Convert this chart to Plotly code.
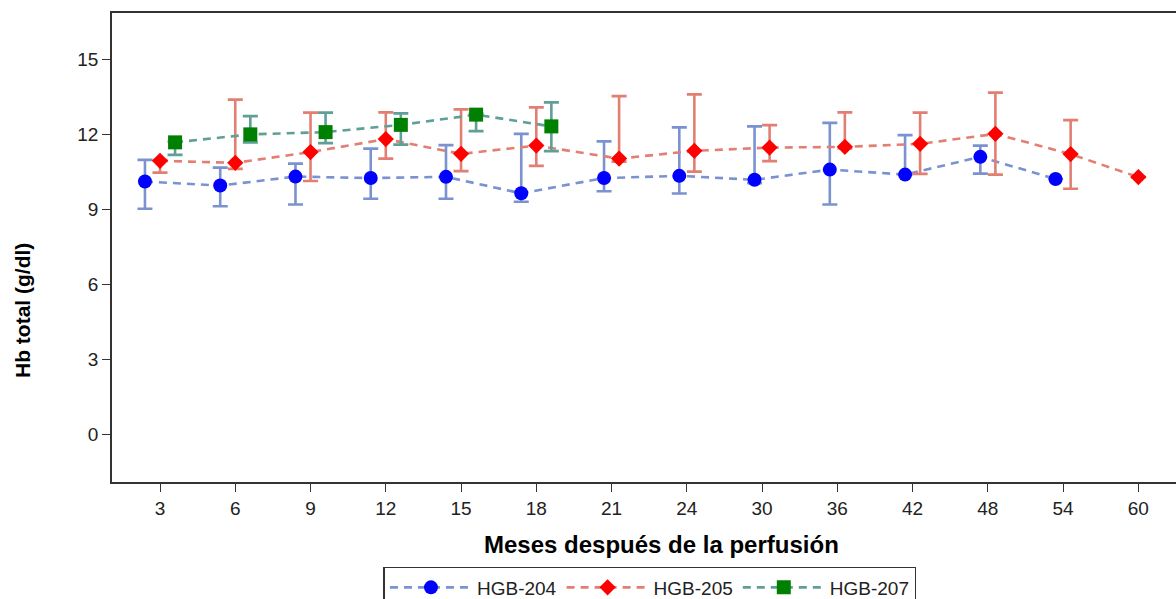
import plotly.graph_objects as go

months = ["3", "6", "9", "12", "15", "18", "21", "24", "30", "36", "42", "48", "54", "60"]

series_names = ["HGB-204", "HGB-205", "HGB-207"]

hgb204_mean = [10.12, 9.96, 10.32, 10.26, 10.31, 9.65, 10.26, 10.35, 10.19, 10.60, 10.40, 11.11, 10.22, None]
hgb204_upper = [10.99, 10.68, 10.84, 11.44, 11.58, 12.03, 11.73, 12.29, 12.33, 12.47, 11.98, 11.56, None, None]
hgb204_lower = [9.03, 9.13, 9.20, 9.43, 9.43, 9.31, 9.73, 9.64, 10.05, 9.20, 10.40, 10.44, None, None]

hgb205_mean = [10.95, 10.87, 11.30, 11.82, 11.23, 11.56, 11.04, 11.35, 11.48, 11.51, 11.63, 12.03, 11.22, 10.30]
hgb205_upper = [10.98, 13.40, 12.88, 12.89, 13.01, 13.09, 13.54, 13.61, 12.38, 12.89, 12.88, 13.68, 12.58, None]
hgb205_lower = [10.48, 10.63, 10.14, 11.04, 10.54, 10.75, 10.92, 10.52, 10.94, 11.45, 10.43, 10.40, 9.83, None]

hgb207_mean = [11.69, 12.01, 12.10, 12.39, 12.80, 12.33, None, None, None, None, None, None, None, None]
hgb207_upper = [11.72, 12.74, 12.88, 12.85, 12.83, 13.29, None, None, None, None, None, None, None, None]
hgb207_lower = [11.19, 11.69, 11.66, 11.60, 12.14, 11.34, None, None, None, None, None, None, None, None]

y_ticks = [0, 3, 6, 9, 12, 15]

means = [hgb204_mean, hgb205_mean, hgb207_mean]
uppers = [hgb204_upper, hgb205_upper, hgb207_upper]
lowers = [hgb204_lower, hgb205_lower, hgb207_lower]

line_colors = ["#7A92CF", "#E27F72", "#5E9F96"]
marker_colors = ["#0000FF", "#FF0000", "#008000"]
symbols = ["circle", "diamond", "square"]
sizes = [14, 12.5, 14]

FONT = "Liberation Sans, Arial, sans-serif"
CLUSTER_STEP = 0.2

# cluster offsets: groups present at each category are centred on the tick
offsets = [[None] * len(months) for _ in means]
for i in range(len(months)):
    present = [k for k in range(len(means)) if means[k][i] is not None]
    n = len(present)
    for j, k in enumerate(present):
        offsets[k][i] = i + (j - (n - 1) / 2) * CLUSTER_STEP

fig = go.Figure()
for k, name in enumerate(series_names):
    xs, ys, ep, em = [], [], [], []
    for i in range(len(months)):
        v = means[k][i]
        if v is None:
            continue
        xs.append(offsets[k][i])
        ys.append(v)
        u = uppers[k][i]
        l = lowers[k][i]
        ep.append((u - v) if u is not None else 0)
        em.append((v - l) if l is not None else 0)
    fig.add_trace(go.Scatter(
        x=xs, y=ys, name=name, mode="lines+markers",
        line=dict(color=line_colors[k], width=2.6, dash="8px,6px"),
        marker=dict(color=marker_colors[k], symbol=symbols[k], size=sizes[k],
                    line=dict(width=0)),
        error_y=dict(type="data", symmetric=False, array=ep, arrayminus=em,
                     color=line_colors[k], thickness=2.6, width=7.5),
    ))

fig.update_layout(
    width=1176, height=599,
    margin=dict(l=112, r=0, t=13, b=117, autoexpand=False),
    paper_bgcolor="white", plot_bgcolor="white",
    font=dict(family=FONT, color="#222"),
    showlegend=True,
    legend=dict(orientation="h", x=0.5056, xanchor="center", y=-0.1812, yanchor="top",
                bordercolor="#333", borderwidth=1.5, bgcolor="white",
                font=dict(size=19, family=FONT, color="#222"),
                itemwidth=82, traceorder="normal"),
    xaxis=dict(range=[-0.638, 13.5], tickvals=list(range(len(months))), ticktext=months,
               showline=True, linecolor="#333", linewidth=1.6, mirror=True,
               ticks="outside", ticklen=8, tickwidth=1.3, tickcolor="#333",
               showgrid=False, zeroline=False,
               tickfont=dict(size=19, family=FONT, color="#222")),
    yaxis=dict(range=[-1.91, 16.87], tickvals=y_ticks,
               showline=True, linecolor="#333", linewidth=1.6, mirror=False,
               ticks="outside", ticklen=8, tickwidth=1.3, tickcolor="#333",
               showgrid=False, zeroline=False,
               tickfont=dict(size=19, family=FONT, color="#222")),
    annotations=[
        dict(text="<b>Meses después de la perfusión</b>", xref="paper", yref="paper",
             x=0.516, y=-0.1343, xanchor="center", yanchor="middle", showarrow=False,
             font=dict(size=24, family=FONT, color="black")),
        dict(text="<b>Hb total (g/dl)</b>", xref="paper", yref="paper",
             x=-0.0846, y=0.3667, xanchor="center", yanchor="middle", showarrow=False,
             textangle=-90, font=dict(size=21, family=FONT, color="black")),
    ],
)

fig.write_html("out.html", config={"displayModeBar": False},
               post_script="document.body.style.margin='0';")
